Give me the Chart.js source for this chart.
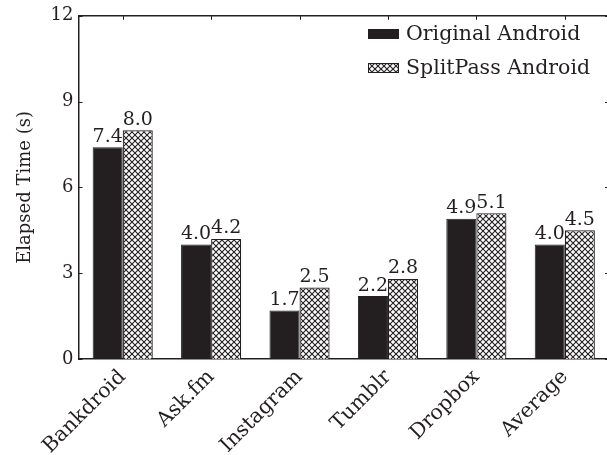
<!DOCTYPE html>
<html>
<head>
<meta charset="utf-8">
<script src="https://cdn.jsdelivr.net/npm/chart.js@4"></script>
<style>
  html, body { margin: 0; padding: 0; background: #fff; overflow: hidden; }
  #wrap { width: 612px; height: 461px; }
</style>
</head>
<body>
<div id="wrap"><canvas id="barChart"></canvas></div>
<script>
// datos
const apps = ['Bankdroid', 'Ask.fm', 'Instagram', 'Tumblr', 'Dropbox', 'Average'];
const originalTimes = [7.4, 4.0, 1.7, 2.2, 4.9, 4.0];
const splitpassTimes = [8.0, 4.2, 2.5, 2.8, 5.1, 4.5];
const yTicks = [0, 3, 6, 9, 12];
const seriesNames = ['Original Android', 'SplitPass Android'];

const ink = '#231f20';
const serif = '"DejaVu Serif", serif';

// trama cruzada para la segunda serie
function crossHatch() {
  const s = 6;
  const c = document.createElement('canvas');
  c.width = s; c.height = s;
  const g = c.getContext('2d');
  g.fillStyle = '#fff';
  g.fillRect(0, 0, s, s);
  g.strokeStyle = ink;
  g.lineWidth = 1.1;
  g.beginPath();
  g.moveTo(0, 0); g.lineTo(s, s);
  g.moveTo(s, 0); g.lineTo(0, s);
  g.stroke();
  return g.createPattern(c, 'repeat');
}
const hatch = crossHatch();

const extras = {
  id: 'extras',
  afterDatasetsDraw(chart) {
    const ctx = chart.ctx;
    const a = chart.chartArea;
    const xs = chart.scales.x, ys = chart.scales.y;
    ctx.save();
    ctx.strokeStyle = ink;
    ctx.lineWidth = 1.5;
    // marco superior y derecho
    ctx.beginPath();
    ctx.moveTo(a.left, a.top); ctx.lineTo(a.right, a.top); ctx.lineTo(a.right, a.bottom);
    ctx.stroke();
    // marcas hacia dentro
    ctx.lineWidth = 1;
    ctx.beginPath();
    yTicks.forEach(v => {
      const y = Math.round(ys.getPixelForValue(v)) + 0.5;
      ctx.moveTo(a.left, y); ctx.lineTo(a.left + 4, y);
      ctx.moveTo(a.right, y); ctx.lineTo(a.right - 4, y);
    });
    apps.forEach((_, i) => {
      const x = Math.round(xs.getPixelForValue(i)) + 0.5;
      ctx.moveTo(x, a.top); ctx.lineTo(x, a.top + 4);
    });
    ctx.stroke();

    // etiquetas de valores
    ctx.fillStyle = ink;
    ctx.font = '19px ' + serif;
    ctx.textAlign = 'center';
    ctx.textBaseline = 'bottom';
    chart.data.datasets.forEach((ds, di) => {
      chart.getDatasetMeta(di).data.forEach((bar, i) => {
        ctx.fillText(ds.data[i].toFixed(1), bar.x, bar.y - 1);
      });
    });

    // leyenda dentro del area
    ctx.font = '20.5px ' + serif;
    ctx.textAlign = 'left';
    ctx.textBaseline = 'middle';
    const lx = 368, rows = [34, 68];
    chart.data.datasets.forEach((ds, di) => {
      const y = rows[di];
      ctx.fillStyle = ds.backgroundColor;
      ctx.fillRect(lx, y - 5, 31, 10);
      ctx.strokeStyle = ink;
      ctx.lineWidth = 1;
      ctx.strokeRect(lx + 0.5, y - 4.5, 30, 9);
      ctx.fillStyle = ink;
      ctx.fillText(ds.label, lx + 38, y + 1);
    });
    ctx.restore();
  }
};

new Chart(document.getElementById('barChart').getContext('2d'), {
  type: 'bar',
  data: {
    labels: apps,
    datasets: [{
      label: seriesNames[0],
      data: originalTimes,
      backgroundColor: ink,
      borderColor: ink,
      borderWidth: 1
    }, {
      label: seriesNames[1],
      data: splitpassTimes,
      backgroundColor: hatch,
      borderColor: ink,
      borderWidth: 1.2
    }]
  },
  options: {
    responsive: true,
    maintainAspectRatio: false,
    animation: false,
    layout: { padding: { top: 0, right: 3, left: 11, bottom: 0 } },
    datasets: { bar: { categoryPercentage: 0.68, barPercentage: 1 } },
    plugins: { legend: { display: false }, tooltip: { enabled: false } },
    scales: {
      x: {
        afterFit: s => { s.height = 102; },
        grid: { display: false, drawTicks: false, tickLength: 0 },
        border: { display: true, color: ink, width: 1.5 },
        ticks: {
          color: ink, font: { family: serif, size: 20.5 },
          maxRotation: 45, minRotation: 45, padding: 6
        }
      },
      y: {
        min: 0, max: 12,
        afterBuildTicks: s => { s.ticks = yTicks.map(v => ({ value: v })); },
        grid: { display: false, drawTicks: false, tickLength: 0 },
        border: { display: true, color: ink, width: 1.5 },
        ticks: { color: ink, font: { family: serif, size: 18 }, padding: 5 },
        title: {
          display: true, text: 'Elapsed Time (s)', color: ink,
          font: { family: serif, size: 18 }, padding: { bottom: 9 }
        }
      }
    }
  },
  plugins: [extras]
});
</script>
</body>
</html>
